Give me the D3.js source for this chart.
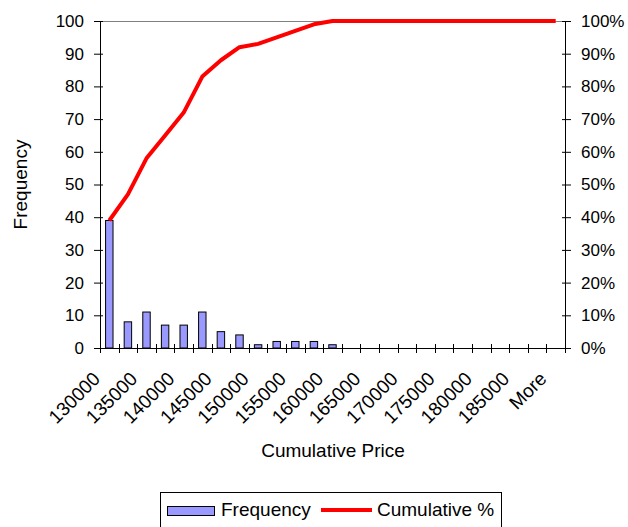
<!DOCTYPE html>
<html>
<head>
<meta charset="utf-8">
<script src="https://cdn.jsdelivr.net/npm/d3@7/dist/d3.min.js"></script>
<style>
  html, body { margin: 0; padding: 0; background: #fff; }
  svg { display: block; font-family: "Liberation Sans", Arial, sans-serif; }
</style>
</head>
<body>
<svg id="chart" width="628" height="527"></svg>
<script>
// Histogram bins (upper bin edges) and counts
const bins = ["130000","132500","135000","137500","140000","142500","145000","147500",
              "150000","152500","155000","157500","160000","162500","165000","167500",
              "170000","172500","175000","177500","180000","182500","185000","187500","More"];
const frequency = [39, 8, 11, 7, 7, 11, 5, 4, 1, 2, 2, 2, 1, 0, 0, 0, 0, 0, 0, 0, 0, 0, 0, 0, 0];
const cumulativePct = [39, 47, 58, 65, 72, 83, 88, 92, 93, 95, 97, 99, 100, 100, 100, 100,
                       100, 100, 100, 100, 100, 100, 100, 100, 100];
const freqTicks = [0, 10, 20, 30, 40, 50, 60, 70, 80, 90, 100];
const pctTicks = [0, 10, 20, 30, 40, 50, 60, 70, 80, 90, 100];
// every other bin gets a label
const labelledBins = bins.filter((d, i) => i % 2 === 0);

const svg = d3.select("#chart");
const plotL = 100, plotR = 565, plotT = 21, plotB = 348;
const TICK_FONT = 17;
const FONT = 19;

const x = d3.scaleBand().domain(bins).range([plotL, plotR]).paddingInner(0).paddingOuter(0);
const yL = d3.scaleLinear().domain([0, 100]).range([plotB, plotT]);
const yR = d3.scaleLinear().domain([0, 100]).range([plotB, plotT]);

// plot area top border
svg.append("line").attr("x1", plotL).attr("x2", plotR).attr("y1", plotT + 0.5).attr("y2", plotT + 0.5)
  .attr("stroke", "#808080").attr("stroke-width", 1);

// bars
const barW = x.bandwidth() / 2.5;
svg.append("g").selectAll("rect")
  .data(bins.map((b, i) => ({ b, v: frequency[i] })).filter(d => d.v > 0))
  .join("rect")
  .attr("x", d => x(d.b) + (x.bandwidth() - barW) / 2)
  .attr("y", d => yL(d.v))
  .attr("width", barW)
  .attr("height", d => yL(0) - yL(d.v))
  .attr("fill", "#9999FF")
  .attr("stroke", "#000")
  .attr("stroke-width", 1);

// left axis
const gL = svg.append("g").attr("transform", `translate(${plotL},0)`)
  .call(d3.axisLeft(yL).tickValues(freqTicks).tickSizeInner(6).tickSizeOuter(0).tickPadding(10));
gL.selectAll(".tick line").attr("x2", -6).attr("x1", 3).attr("stroke", "#000");
gL.select(".domain").attr("stroke", "#000");
gL.selectAll("text").attr("font-size", TICK_FONT).attr("fill", "#000").attr("font-family", "Liberation Sans, Arial, sans-serif");

// right axis
const gR = svg.append("g").attr("transform", `translate(${plotR},0)`)
  .call(d3.axisRight(yR).tickValues(pctTicks).tickFormat(d => d + "%").tickSizeInner(6).tickSizeOuter(0).tickPadding(10));
gR.selectAll(".tick line").attr("x1", -3).attr("x2", 6).attr("stroke", "#000");
gR.select(".domain").attr("stroke", "#000");
gR.selectAll("text").attr("font-size", TICK_FONT).attr("fill", "#000").attr("font-family", "Liberation Sans, Arial, sans-serif");

// bottom axis: tick marks on band edges
const edges = bins.map(b => x(b)).concat([plotR]);
svg.append("g").selectAll("line").data(edges).join("line")
  .attr("x1", d => Math.round(d) + 0.5).attr("x2", d => Math.round(d) + 0.5)
  .attr("y1", plotB - 4).attr("y2", plotB + 5)
  .attr("stroke", "#000");
svg.append("line").attr("x1", plotL).attr("x2", plotR).attr("y1", plotB + 0.5).attr("y2", plotB + 0.5)
  .attr("stroke", "#000");

// rotated category labels
svg.append("g").selectAll("text").data(labelledBins).join("text")
  .attr("transform", d => `translate(${x(d) + x.bandwidth() / 2 - 8},${plotB + 32}) rotate(-45)`)
  .attr("text-anchor", "end")
  .attr("font-size", FONT)
  .text(d => d);

// cumulative line
const line = d3.line().x((d, i) => x(bins[i]) + x.bandwidth() / 2).y(d => yR(d));
svg.append("path").datum(cumulativePct)
  .attr("d", line)
  .attr("fill", "none")
  .attr("stroke", "#FF0000")
  .attr("stroke-width", 4)
  .attr("stroke-linejoin", "round");

// axis titles
svg.append("text").attr("transform", `translate(27,${(plotT + plotB) / 2}) rotate(-90)`)
  .attr("text-anchor", "middle").attr("font-size", FONT).text("Frequency");
svg.append("text").attr("x", 333).attr("y", 457)
  .attr("text-anchor", "middle").attr("font-size", FONT).text("Cumulative Price");

// legend
const lg = svg.append("g");
lg.append("rect").attr("x", 160.5).attr("y", 492.5).attr("width", 341).attr("height", 40)
  .attr("fill", "#fff").attr("stroke", "#000");
lg.append("rect").attr("x", 167.5).attr("y", 506.5).attr("width", 47).attr("height", 9)
  .attr("fill", "#9999FF").attr("stroke", "#000");
lg.append("text").attr("x", 221).attr("y", 516).attr("font-size", FONT).text("Frequency");
lg.append("line").attr("x1", 321).attr("x2", 372).attr("y1", 510).attr("y2", 510)
  .attr("stroke", "#FF0000").attr("stroke-width", 4);
lg.append("text").attr("x", 377).attr("y", 516).attr("font-size", FONT).text("Cumulative %");
</script>
</body>
</html>
